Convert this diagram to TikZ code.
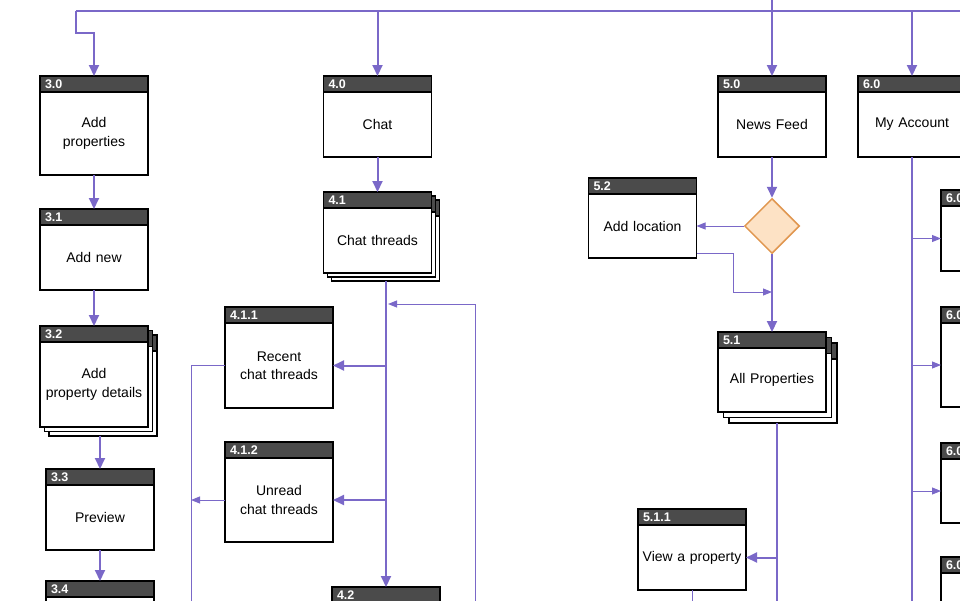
\documentclass[tikz,border=0pt]{standalone}
\usepackage{fontspec}
\setmainfont{Liberation Sans}
\usetikzlibrary{positioning,arrows.meta,shapes.geometric,shadows}
\definecolor{hdrgray}{HTML}{4B4B4B}
\definecolor{flowline}{HTML}{7A68C8}
\definecolor{decfill}{HTML}{FDE2C5}
\definecolor{decdraw}{HTML}{E0964F}

\begin{document}
\begin{tikzpicture}[x=1pt,y=-1pt,
  hdr/.style={draw, line width=1.3pt, fill=hdrgray, text=white, font=\bfseries\fontsize{12.5}{13}\selectfont,
    minimum height=16pt, text width=98pt, inner xsep=5pt, inner ysep=0pt, outer sep=0pt, anchor=north},
  body/.style={draw, line width=1.3pt, fill=white, text width=104pt, inner xsep=2pt, inner ysep=0pt,
    outer sep=0pt, align=center, font=\fontsize{14}{18.5}\selectfont},
  stack/.style={copy shadow={shadow xshift=2*#1, shadow yshift=-2*#1}, copy shadow={shadow xshift=#1, shadow yshift=-#1}},
  main/.style={draw=flowline, line width=2pt},
  flow/.style={main, -{Triangle[length=11pt,width=10pt]}},
  side/.style={draw=flowline, line width=1pt},
  sideflow/.style={side, -{Triangle[length=9pt,width=7pt]}},
  decision/.style={diamond, draw=decdraw, fill=decfill, line width=1.5pt, minimum width=55pt, minimum height=55pt, inner sep=0pt}]

\useasboundingbox (0,0) rectangle (960,600);
\clip (0,0) rectangle (960,600);

% properties
\node[hdr] (h30) at (94,76) {3.0};
\node[body, minimum height=83pt, below=0pt of h30] (b30) {Add\\properties};
\node[hdr] (h31) at (94,209) {3.1};
\node[body, minimum height=65pt, below=0pt of h31] (b31) {Add new};
\node[hdr, stack=4.5pt] (h32) at (94,326) {3.2};
\node[body, stack=4.5pt, minimum height=85pt, below=0pt of h32] (b32) {Add\\property details};
\node[hdr] (h33) at (100,469) {3.3};
\node[body, minimum height=65pt, below=0pt of h33] (b33) {Preview};
\node[hdr] (h34) at (100,581) {3.4};
\node[body, minimum height=65pt, below=0pt of h34] (b34) {};

% chat
\node[hdr] (h40) at (377.5,76) {4.0};
\node[body, minimum height=65pt, below=0pt of h40] (b40) {Chat};
\node[hdr, stack=4pt] (h41) at (377.5,192) {4.1};
\node[body, stack=4pt, minimum height=65pt, below=0pt of h41] (b41) {Chat threads};
\node[hdr] (h411) at (279,307) {4.1.1};
\node[body, minimum height=85pt, below=0pt of h411] (b411) {Recent\\chat threads};
\node[hdr] (h412) at (279,442) {4.1.2};
\node[body, minimum height=84pt, below=0pt of h412] (b412) {Unread\\chat threads};
\node[hdr] (h42) at (386,587) {4.2};
\node[body, minimum height=65pt, below=0pt of h42] (b42) {};

% news feed
\node[hdr] (h50) at (772,76) {5.0};
\node[body, minimum height=65pt, below=0pt of h50] (b50) {News Feed};
\node[decision] (dia) at (772,226) {};
\node[hdr] (h52) at (642.5,178) {5.2};
\node[body, minimum height=64pt, below=0pt of h52] (b52) {Add location};
\node[hdr, stack=5.5pt] (h51) at (772,332) {5.1};
\node[body, stack=5.5pt, minimum height=64pt, below=0pt of h51] (b51) {All Properties};
\node[hdr] (h511) at (692,509) {5.1.1};
\node[body, minimum height=65pt, below=0pt of h511] (b511) {View a property};

% account
\node[hdr] (h60) at (912,76) {6.0};
\node[body, minimum height=65pt, below=0pt of h60] (b60) {My Account};
\node[hdr] (h61) at (995,190) {6.0.1};
\node[body, minimum height=65pt, below=0pt of h61] (b61) {};
\node[hdr] (h62) at (995,307) {6.0.2};
\node[body, minimum height=84pt, below=0pt of h62] (b62) {};
\node[hdr] (h63) at (995,443) {6.0.3};
\node[body, minimum height=64pt, below=0pt of h63] (b63) {};
\node[hdr] (h64) at (995,557) {6.0.4};
\node[body, minimum height=65pt, below=0pt of h64] (b64) {};

\coordinate (busL) at (76,11);
\coordinate (busR) at (970,11);
\coordinate (src) at (772,-5);
\coordinate (loopL) at (191,610);
\coordinate (loopR) at (475,610);
\coordinate (ret) at (388,304);
\coordinate (join) at (772,292);
\coordinate (down5) at (777,610);
\coordinate (down6) at (912,610);
\coordinate (b32s) at ([yshift=-9pt]b32.south);
\coordinate (b41s) at ([yshift=-8pt]b41.south);
\coordinate (b51s) at ([yshift=-11pt]b51.south);

\draw[main] (busL) -- (busR);
\draw[flow] (busL) -- ++(0,22) -| (h30);
\draw[flow] (h40 |- busL) -- (h40);
\draw[flow] (src -| h50) -- (h50);
\draw[flow] (h60 |- busL) -- (h60);

\draw[flow] (b30) -- (h31);
\draw[flow] (b31) -- (h32);
\draw[flow] (b32s -| h33) -- (h33);
\draw[flow] (b33) -- (h34);

\draw[flow] (b40) -- (h41);
\draw[flow] (b41s -| h42) -- (h42);
\draw[flow] (b411 -| h42) -- (b411);
\draw[flow] (b412 -| h42) -- (b412);
\draw[side] (b411.west) -| (loopL);
\draw[sideflow] (b412.west) -- (b412.west -| loopL);
\draw[sideflow] (loopR) |- (ret);

\draw[flow] (b50) -- (dia);
\draw[sideflow] (dia) -- (b52);
\draw[sideflow] ([yshift=5pt]b52.south east) -- ++(37,0) |- (join);
\draw[flow] (dia) -- (h51);
\draw[main] (b51s -| down5) -- (down5);
\draw[flow] (b511 -| down5) -- (b511);
\draw[side] (b511.south) -- ++(0,20);

\draw[main] (b60) -- (down6);
\draw[sideflow] (b61 -| down6) -- (b61);
\draw[sideflow] (b62 -| down6) -- (b62);
\draw[sideflow] (b63 -| down6) -- (b63);
\end{tikzpicture}
\end{document}
